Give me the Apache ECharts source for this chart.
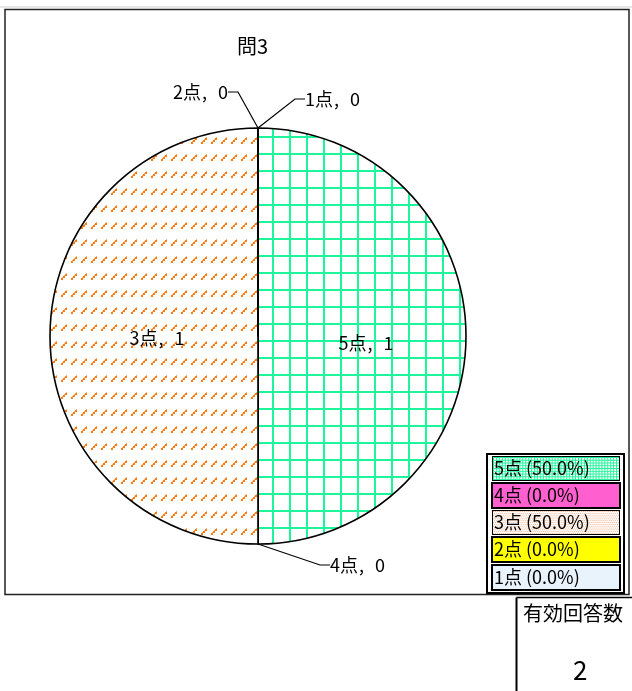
<!DOCTYPE html>
<html>
<head>
<meta charset="UTF-8">
<script src="https://cdn.jsdelivr.net/npm/echarts@6/dist/echarts.min.js"></script>
<title>問3</title>
<style>
  html, body { margin: 0; padding: 0; background: #fff; }
</style>
</head>
<body>
<div id="main" style="width: 632px; height: 691px;"></div>
<script type="text/javascript">
// データ
var categories = ['5点', '4点', '3点', '2点', '1点'];
var counts = [1, 0, 1, 0, 0];
var chartTitle = '問3';
var totalLabel = '有効回答数';

var FONT = '"Noto Sans CJK JP", "Noto Sans", sans-serif';

// 模様（パターン）を作る
function makeCanvas(w, h, draw) {
  var c = document.createElement('canvas');
  c.width = w; c.height = h;
  var ctx = c.getContext('2d');
  ctx.fillStyle = '#fff';
  ctx.fillRect(0, 0, w, h);
  draw(ctx, w, h);
  return c;
}
// 5点：緑の格子
var gridCanvas = makeCanvas(17, 17, function (ctx) {
  ctx.fillStyle = '#1ef59a';
  ctx.fillRect(0, 0, 17, 2);
  ctx.fillRect(0, 0, 2, 17);
});
// 3点：オレンジの点線（斜め）
var dashCanvas = makeCanvas(10, 17, function (ctx) {
  ctx.fillStyle = '#ff7a10';
  ctx.fillRect(1, 6, 2, 2);
  ctx.fillRect(3, 4, 2, 2);
  ctx.fillRect(5, 2, 2, 2);
  ctx.fillStyle = '#ffb070';
  ctx.fillRect(2, 5, 1, 1);
  ctx.fillRect(4, 3, 1, 1);
  ctx.fillRect(6, 1, 1, 1);
});
// 凡例用
var legendW = 129, legendH = 25;
var legendGrid = makeCanvas(legendW, legendH, function (ctx, w, h) {
  ctx.fillStyle = '#1ef59a';
  for (var x = 0; x < w; x += 3) ctx.fillRect(x, 0, 1, h);
  for (var y = 0; y < h; y += 3) ctx.fillRect(0, y, w, 1);
});
var legendDots = makeCanvas(legendW, legendH, function (ctx, w, h) {
  ctx.fillStyle = '#f4b088';
  for (var y = 0; y < h; y += 2) {
    for (var x = (y / 2) % 2; x < w; x += 2) ctx.fillRect(x, y, 1, 1);
  }
});

var sliceFill = [
  { image: gridCanvas, repeat: 'repeat' },
  '#ff5fcf',
  { image: dashCanvas, repeat: 'repeat' },
  '#ffff00',
  '#e8f3fc'
];
var legendFill = [
  { image: legendGrid },
  '#ff5fcf',
  { image: legendDots },
  '#ffff00',
  '#e8f3fc'
];
// 内側ラベルの微調整
var insideOffset = [[1, 7], null, [6, 2], null, null];

var total = counts.reduce(function (a, b) { return a + b; }, 0);

var pieData = categories.map(function (name, i) {
  var item = { name: name, value: counts[i], itemStyle: { color: sliceFill[i] } };
  if (counts[i] > 0) {
    item.label = { position: 'inside', offset: insideOffset[i] || [0, 0] };
    item.labelLine = { show: false };
  }
  return item;
});

// 0件のラベルの位置
var zeroLabelPos = {
  '1点': { x: 305, y: 99, align: 'left' },
  '2点': { x: 228, y: 92, align: 'right' },
  '4点': { x: 330, y: 565, align: 'left' }
};

var legendData = categories.map(function (name, i) {
  return {
    name: name,
    textStyle: { backgroundColor: legendFill[i] }
  };
});

var labelRich = {
  t: { fontFamily: FONT, fontSize: 18, color: '#000' },
  c: { fontFamily: FONT, fontSize: 18, color: '#000', padding: [0, 7, 0, 1] }
};

var myChart = echarts.init(document.getElementById('main'));
var option = {
  animation: false,
  title: {
    text: chartTitle,
    left: 232,
    top: 31,
    textStyle: { fontFamily: FONT, fontSize: 20, fontWeight: 'normal', color: '#000' }
  },
  legend: {
    orient: 'vertical',
    left: 487,
    top: 454,
    itemWidth: 0,
    itemHeight: 0,
    itemGap: 1,
    padding: [2, 3, 2, 0],
    borderColor: '#000',
    borderWidth: 2,
    backgroundColor: '#fff',
    selectedMode: false,
    data: legendData,
    formatter: function (name) {
      var i = categories.indexOf(name);
      var pct = total ? (counts[i] / total * 100).toFixed(1) : '0.0';
      return name + ' (' + pct + '%)';
    },
    textStyle: {
      fontFamily: FONT,
      fontSize: 18,
      color: '#000',
      width: 121,
      height: 21,
      lineHeight: 21,
      padding: [1, 4, 1, 1],
      borderColor: '#000',
      borderWidth: 2
    }
  },
  graphic: [
    { type: 'line', shape: { x1: 0, y1: 7, x2: 632, y2: 7 }, style: { stroke: '#d0d0d0', lineWidth: 1 }, silent: true },
    { type: 'rect', shape: { x: 5, y: 9.5, width: 624, height: 585 }, style: { fill: null, stroke: '#222', lineWidth: 1.5 }, silent: true },
    { type: 'line', shape: { x1: 516.5, y1: 597.5, x2: 632, y2: 597.5 }, style: { stroke: '#000', lineWidth: 1.5 }, silent: true },
    { type: 'line', shape: { x1: 516.5, y1: 597.5, x2: 516.5, y2: 691 }, style: { stroke: '#000', lineWidth: 2 }, silent: true },
    { type: 'text', left: 523, top: 603, style: { text: totalLabel, font: '20px ' + FONT, fill: '#000' }, silent: true },
    { type: 'text', left: 573, top: 657, style: { text: String(total), font: '26px ' + FONT, fill: '#000' }, silent: true }
  ],
  series: [{
    type: 'pie',
    center: [258, 336],
    radius: 208,
    startAngle: 90,
    clockwise: true,
    avoidLabelOverlap: false,
    minAngle: 0,
    silent: true,
    itemStyle: { borderColor: '#000', borderWidth: 1.6 },
    label: {
      show: true,
      position: 'outside',
      formatter: function (p) {
        return '{t|' + p.name + '}{c|, }{t|' + p.value + '}';
      },
      rich: labelRich,
      fontFamily: FONT,
      fontSize: 18,
      color: '#000'
    },
    labelLine: {
      show: true,
      length: 20,
      length2: 10,
      lineStyle: { color: '#000', width: 1.2 }
    },
    labelLayout: function (params) {
      var p = zeroLabelPos[categories[params.dataIndex]];
      if (!p) return {};
      return { x: p.x, y: p.y, align: p.align, verticalAlign: 'middle' };
    },
    data: pieData
  }]
};
myChart.setOption(option);
</script>
</body>
</html>
